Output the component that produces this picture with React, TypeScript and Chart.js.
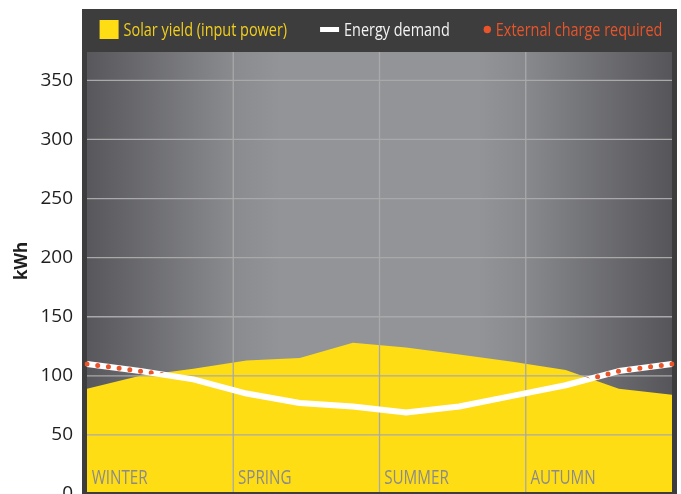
import React, { useEffect, useRef } from 'react';
import { Chart, registerables } from 'chart.js';

Chart.register(...registerables);

// ---- data ----
const MONTHS = ['Jan', 'Feb', 'Mar', 'Apr', 'May', 'Jun', 'Jul', 'Aug', 'Sep', 'Oct', 'Nov', 'Dec'];
const SOLAR = [89, 100, 106, 113, 115, 128, 124, 118, 112, 105, 89, 84];
const DEMAND = [110, 104, 97, 85, 77, 74, 69, 74, 83, 92, 104, 110];
const SERIES = ['Solar yield (input power)', 'Energy demand', 'External charge required'];
const SEASONS = ['WINTER', 'SPRING', 'SUMMER', 'AUTUMN'];
const SEASON_STARTS = [0, 2.75, 5.5, 8.25];
const Y_MAX = 374;
const Y_STEP = 50;
const Y_TITLE = 'kWh';

// ---- styles ----
const YELLOW = '#ffdd15';
const WHITE = '#ffffff';
const RED = '#e9542a';
const FRAME = '#3d3d3d';
const GRID = '#a9a9a9';
const LEGEND_TEXT = ['#f2cf1c', '#f4f4f4', '#e9542a'];
const LEGEND_MARKERS = ['square', 'dash', 'dot'];
const FONT = "'Open Sans', 'DejaVu Sans', sans-serif";
const CONDENSE = 0.76;

function condensedText(ctx: CanvasRenderingContext2D, text: string, x: number, y: number, size: number, color: string) {
  ctx.save();
  ctx.font = `${size}px ${FONT}`;
  ctx.fillStyle = color;
  ctx.textAlign = 'left';
  ctx.textBaseline = 'alphabetic';
  const w = ctx.measureText(text).width * CONDENSE;
  ctx.translate(x, y);
  ctx.scale(CONDENSE, 1);
  ctx.fillText(text, 0, 0);
  ctx.restore();
  return w;
}

function measureCondensed(ctx: CanvasRenderingContext2D, text: string, size: number) {
  ctx.save();
  ctx.font = `${size}px ${FONT}`;
  const w = ctx.measureText(text).width * CONDENSE;
  ctx.restore();
  return w;
}

const decor = {
  id: 'decor',
  beforeDraw(chart: any) {
    const { ctx, chartArea: a, height } = chart;
    ctx.save();
    ctx.fillStyle = FRAME;
    ctx.fillRect(82, 9, 677 - 82, height - 9);
    const g = ctx.createLinearGradient(a.left, 0, a.right, 0);
    g.addColorStop(0, '#58585c');
    g.addColorStop(0.25, '#8a8b8f');
    g.addColorStop(0.33, '#939498');
    g.addColorStop(0.67, '#939498');
    g.addColorStop(0.75, '#88898d');
    g.addColorStop(1, '#56565a');
    ctx.fillStyle = g;
    ctx.fillRect(a.left, a.top, a.right - a.left, a.bottom - a.top);
    ctx.restore();
  },
  beforeDatasetDraw(chart: any, args: any) {
    if (args.index !== 2) return;
    const { ctx, chartArea: a } = chart;
    const pts = chart.getDatasetMeta(0).data;
    ctx.save();
    ctx.beginPath();
    ctx.moveTo(a.left - 10, pts[0].y);
    pts.forEach((p: any) => ctx.lineTo(p.x, p.y));
    ctx.lineTo(a.right + 10, pts[pts.length - 1].y);
    ctx.lineTo(a.right + 10, a.top - 10);
    ctx.lineTo(a.left - 10, a.top - 10);
    ctx.closePath();
    ctx.clip();
  },
  afterDatasetDraw(chart: any, args: any) {
    const { ctx, chartArea: a } = chart;
    if (args.index === 2) {
      ctx.restore();
      return;
    }
    if (args.index !== 0) return;
    const xs = chart.scales.x;
    const ys = chart.scales.y;
    ctx.save();
    ctx.strokeStyle = GRID;
    ctx.lineWidth = 1.3;
    ys.ticks.forEach((t: any) => {
      if (t.value <= 0 || t.value >= Y_MAX) return;
      const y = ys.getPixelForValue(t.value);
      ctx.beginPath();
      ctx.moveTo(a.left, y);
      ctx.lineTo(a.right, y);
      ctx.stroke();
    });
    SEASON_STARTS.forEach((s) => {
      if (s <= 0) return;
      const x = xs.getPixelForValue(s);
      ctx.beginPath();
      ctx.moveTo(x, a.top);
      ctx.lineTo(x, a.bottom);
      ctx.stroke();
    });
    SEASONS.forEach((name, i) => {
      const x = xs.getPixelForValue(SEASON_STARTS[i]) + 4.7;
      condensedText(ctx, name, x, a.bottom - 10.5, 20, '#8b8b8b');
    });
    ctx.restore();
  },
  afterDraw(chart: any) {
    const { ctx, height } = chart;
    ctx.save();
    // bottom frame border
    ctx.fillStyle = FRAME;
    ctx.fillRect(82, 492, 677 - 82, height - 492);
    // y title
    ctx.font = `bold 17px ${FONT}`;
    ctx.fillStyle = '#1e1e1e';
    ctx.textAlign = 'center';
    ctx.textBaseline = 'middle';
    ctx.translate(22.5, 261);
    ctx.rotate(-Math.PI / 2);
    ctx.fillText(Y_TITLE, 0, 0);
    ctx.restore();

    // legend
    const size = 19;
    const datasets = chart.data.datasets;
    const items = datasets.map((d: any, i: number) => {
      const marker = LEGEND_MARKERS[i];
      const mw = marker === 'dot' ? 9 : 19;
      const gap = marker === 'dot' ? 4 : 5;
      const tw = measureCondensed(ctx, d.label, size);
      return { marker, mw, gap, tw, label: d.label, color: d.borderColor, text: LEGEND_TEXT[i] };
    });
    const spacing = 33;
    const total = items.reduce((s: number, it: any) => s + it.mw + it.gap + it.tw, 0) + spacing * (items.length - 1);
    let x = 381 - total / 2;
    const cy = 29.5;
    items.forEach((it: any) => {
      ctx.save();
      ctx.fillStyle = it.color;
      if (it.marker === 'square') {
        ctx.fillRect(x, cy - 9.5, 19, 19);
      } else if (it.marker === 'dash') {
        ctx.fillRect(x, cy - 2.5, 19, 5);
      } else {
        ctx.beginPath();
        ctx.arc(x + it.mw / 2, cy, 3.7, 0, Math.PI * 2);
        ctx.fill();
      }
      ctx.restore();
      condensedText(ctx, it.label, x + it.mw + it.gap, 36, size, it.text);
      x += it.mw + it.gap + it.tw + spacing;
    });
  },
};

export default function App() {
  const ref = useRef<HTMLCanvasElement>(null);
  useEffect(() => {
    const canvas = ref.current!;
    const chart = new Chart(canvas, {
      type: 'line',
      data: {
        labels: MONTHS,
        datasets: [
          {
            label: SERIES[0],
            data: SOLAR,
            fill: 'origin',
            backgroundColor: YELLOW,
            borderColor: YELLOW,
            borderWidth: 0,
            pointRadius: 0,
            tension: 0,
            order: 3,
          },
          {
            label: SERIES[1],
            data: DEMAND,
            fill: false,
            borderColor: WHITE,
            borderWidth: 6,
            borderJoinStyle: 'round',
            pointRadius: 0,
            tension: 0,
            order: 2,
          },
          {
            label: SERIES[2],
            data: DEMAND,
            fill: false,
            borderColor: RED,
            borderWidth: 5,
            borderDash: [0, 10.8],
            borderCapStyle: 'round',
            pointRadius: 0,
            tension: 0,
            order: 1,
          },
        ],
      },
      options: {
        responsive: false,
        animation: false,
        devicePixelRatio: 1,
        events: [],
        layout: { padding: { left: 0, right: 9, top: 52, bottom: 46 } },
        plugins: { legend: { display: false }, tooltip: { enabled: false } },
        scales: {
          x: { type: 'category', display: false, offset: false },
          y: {
            min: 0,
            max: Y_MAX,
            grid: { display: false, drawTicks: false },
            border: { display: false },
            ticks: {
              stepSize: Y_STEP,
              includeBounds: false,
              padding: 14,
              color: '#1e1e1e',
              font: { size: 19, family: FONT },
            },
            afterFit: (s: any) => {
              s.width = 87;
            },
          },
        },
      } as any,
      plugins: [decor as any],
    });
    return () => chart.destroy();
  }, []);
  return (
    <div style={{ position: 'absolute', left: 0, top: 0, width: 681, height: 494, overflow: 'hidden', background: '#fff' }}>
      <canvas ref={ref} width={681} height={540} style={{ display: 'block' }} />
    </div>
  );
}
